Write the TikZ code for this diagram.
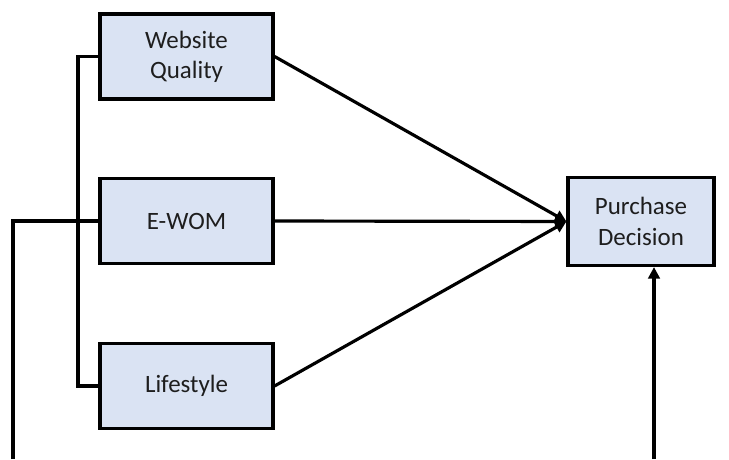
\documentclass[tikz,border=0pt]{standalone}
\usepackage{fontspec}
\setmainfont{Carlito}
\usepackage{xcolor}
\definecolor{boxfill}{RGB}{218,227,243}
\definecolor{boxtext}{RGB}{30,30,30}
\usepackage{tikz}
\usetikzlibrary{arrows.meta,positioning}

\begin{document}
\begin{tikzpicture}[
  var/.style={draw=black, fill=boxfill, line width=1.8pt, minimum width=3.46cm, minimum height=1.7cm, align=center, text=boxtext, font=\fontsize{14.2}{17.2}\selectfont, inner sep=0pt},
  link/.style={line width=1.8pt},
  path/.style={line width=1.8pt, -{Triangle[length=6.5pt,width=6.5pt]}}
]
  \useasboundingbox (0,0) rectangle (14.58,9.18);
  %% variables
  \node[var] (wq) at (3.73,8.05) {Website\\Quality};
  \node[var] (ewom) at (3.73,4.76) {E-WOM};
  \node[var] (ls) at (3.73,1.46) {Lifestyle};
  \node[var, minimum width=2.92cm, minimum height=1.76cm] (pd) at (12.82,4.75) {Purchase\\Decision};
  %% free ends at the bottom
  \coordinate (leftin) at (0.26,0);
  \coordinate (rightin) at (13.08,0);
  \coordinate (brk) at (1.56,0);
  %% bracket
  \draw[link] (wq.west) -| (brk |- ls.west) -- (ls.west);
  \draw[link] (leftin) |- (ewom.west);
  %% paths
  \draw[path] (wq.east) -- (pd.west);
  \draw[path] (ewom.east) -- (pd.west);
  \draw[path] (ls.east) -- (pd.west);
  \draw[path] (rightin) -- (rightin |- pd.south);
\end{tikzpicture}
\end{document}
